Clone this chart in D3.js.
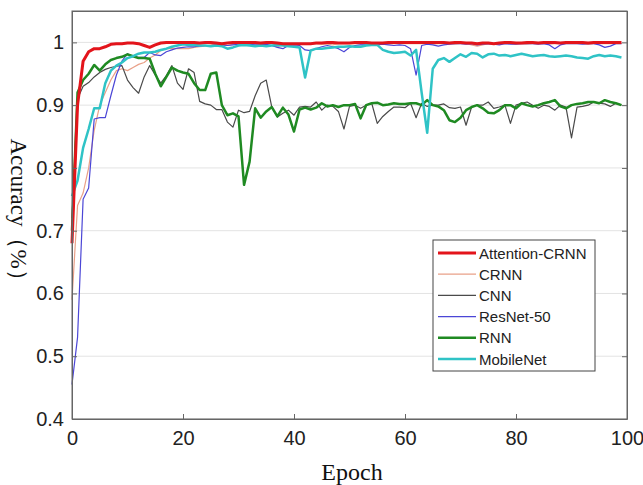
<!DOCTYPE html>
<html><head><meta charset="utf-8">
<script src="https://cdn.jsdelivr.net/npm/d3@7"></script>
<style>body{margin:0;background:#fff}svg{display:block}</style>
</head><body>
<svg id="c" width="643" height="485"></svg>
<script>
const seriesNames = ["Attention-CRNN","CRNN","CNN","ResNet-50","RNN","MobileNet"];
const xTicks = [0,20,40,60,80,100];
const yTicks = [0.4,0.5,0.6,0.7,0.8,0.9,1];
const yTickLabels = ["0.4","0.5","0.6","0.7","0.8","0.9","1"];
const xLabel = "Epoch";
const yLabel = "Accuracy（%）";

const attentionCRNN = [0.68,0.90,0.97,0.985,0.99,0.99,0.993,0.997,0.998,0.998,
0.999,0.999,0.998,0.995,0.992,0.996,0.999,1.0,1.0,1.0,
1.0,1.0,1.0,0.999,1.0,1.0,0.999,0.998,0.999,1.0,
1.0,1.0,1.0,1.0,0.999,1.0,1.0,0.999,0.998,0.998,
0.998,0.998,0.998,0.998,0.999,0.999,1.0,1.0,0.999,0.999,
0.999,1.0,1.0,1.0,0.999,0.999,0.999,1.0,1.0,1.0,
1.0,1.0,1.0,1.0,1.0,1.0,1.0,1.0,0.999,1.0,
1.0,0.999,0.999,0.998,0.999,0.999,0.998,0.999,1.0,1.0,
0.999,0.999,1.0,1.0,0.999,1.0,1.0,1.0,0.999,1.0,
1.0,1.0,1.0,0.999,1.0,1.0,1.0,1.0,1.0,1.0];

const crnn = [0.59,0.74,0.76,0.80,0.86,0.90,0.92,0.94,0.955,0.958,
0.955,0.96,0.965,0.968,0.975,0.98,0.987,0.99,0.99,0.99,
0.99,0.99,0.992,0.993,0.994,0.996,0.997,0.996,0.995,0.997,
0.998,0.998,0.997,0.998,0.997,0.996,0.995,0.993,0.996,0.997,
0.998,0.998,0.997,0.998,0.998,0.997,0.997,0.996,0.998,0.998,
0.998,0.998,0.997,0.998,0.998,0.998,0.997,0.997,0.998,0.998,
0.998,0.998,0.998,0.998,0.998,0.997,0.998,0.998,0.998,0.997,
0.998,0.998,0.996,0.994,0.996,0.998,0.998,0.997,0.998,0.998,
0.998,0.998,0.997,0.998,0.998,0.998,0.997,0.998,0.998,0.998,
0.998,0.998,0.998,0.997,0.998,0.998,0.998,0.998,0.998,0.998];

const cnn = [0.72,0.91,0.93,0.936,0.945,0.952,0.957,0.96,0.962,0.963,
0.94,0.928,0.919,0.945,0.963,0.948,0.935,0.947,0.963,0.935,
0.925,0.958,0.952,0.906,0.902,0.9,0.893,0.893,0.873,0.865,
0.892,0.888,0.89,0.915,0.935,0.94,0.897,0.881,0.887,0.892,
0.884,0.897,0.898,0.897,0.905,0.892,0.9,0.898,0.89,0.862,
0.898,0.9,0.895,0.9,0.903,0.871,0.882,0.89,0.897,0.897,
0.896,0.903,0.88,0.903,0.898,0.9,0.9,0.902,0.896,0.895,
0.897,0.868,0.897,0.9,0.9,0.905,0.895,0.897,0.9,0.871,
0.9,0.903,0.905,0.9,0.895,0.9,0.898,0.892,0.9,0.897,
0.848,0.897,0.898,0.9,0.905,0.903,0.902,0.898,0.903,0.9];

const resnet50 = [0.455,0.53,0.75,0.768,0.878,0.88,0.88,0.915,0.948,0.97,
0.982,0.978,0.976,0.976,0.984,0.98,0.979,0.985,0.988,0.991,
0.992,0.993,0.993,0.994,0.995,0.995,0.996,0.996,0.995,0.996,
0.997,0.997,0.997,0.996,0.996,0.997,0.995,0.992,0.99,0.995,
0.996,0.995,0.988,0.987,0.99,0.993,0.995,0.993,0.99,0.985,
0.992,0.995,0.996,0.996,0.995,0.996,0.997,0.996,0.995,0.996,
0.995,0.99,0.948,0.995,0.997,0.996,0.994,0.996,0.997,0.998,
0.998,0.997,0.998,0.996,0.997,0.998,0.997,0.996,0.998,0.997,
0.997,0.998,0.998,0.998,0.997,0.998,0.996,0.99,0.996,0.998,
0.998,0.998,0.997,0.998,0.998,0.996,0.992,0.994,0.998,0.998];

const rnn = [0.70,0.92,0.94,0.95,0.964,0.955,0.965,0.972,0.975,0.977,
0.981,0.978,0.975,0.975,0.974,0.95,0.93,0.945,0.96,0.955,
0.952,0.95,0.935,0.924,0.924,0.95,0.952,0.9,0.884,0.887,
0.882,0.773,0.81,0.895,0.88,0.89,0.897,0.882,0.896,0.885,
0.858,0.893,0.896,0.893,0.896,0.903,0.898,0.9,0.897,0.9,
0.9,0.902,0.879,0.9,0.903,0.904,0.9,0.901,0.903,0.902,
0.902,0.903,0.903,0.9,0.908,0.9,0.898,0.892,0.876,0.873,
0.88,0.892,0.897,0.9,0.895,0.888,0.887,0.892,0.9,0.9,
0.895,0.903,0.9,0.898,0.9,0.903,0.905,0.908,0.898,0.895,
0.9,0.902,0.903,0.905,0.905,0.903,0.908,0.905,0.903,0.9];

const mobileNet = [0.755,0.78,0.832,0.862,0.895,0.895,0.935,0.955,0.963,0.968,
0.975,0.978,0.982,0.984,0.984,0.985,0.988,0.99,0.993,0.995,
0.997,0.996,0.996,0.995,0.995,0.994,0.995,0.994,0.99,0.992,
0.995,0.996,0.995,0.994,0.995,0.994,0.995,0.996,0.995,0.994,
0.993,0.992,0.944,0.987,0.99,0.99,0.991,0.992,0.993,0.993,
0.994,0.993,0.993,0.995,0.996,0.996,0.988,0.985,0.983,0.984,
0.985,0.979,0.988,0.92,0.856,0.958,0.972,0.975,0.969,0.975,
0.981,0.977,0.983,0.982,0.976,0.981,0.982,0.979,0.98,0.978,
0.98,0.982,0.98,0.978,0.979,0.98,0.978,0.977,0.978,0.979,
0.978,0.976,0.975,0.974,0.978,0.98,0.978,0.979,0.978,0.976];

const seriesValues = [attentionCRNN, crnn, cnn, resnet50, rnn, mobileNet];
const seriesColors = ["#e3141b","#e9a088","#4a4a4a","#4b46d6","#1f8a22","#2fc3c6"];
const seriesWidths = [3,1.2,1.2,1.2,2.5,2.5];

const svg = d3.select("#c");
const L=72, R=627, T=11, B=419;
const x = d3.scaleLinear().domain([0,100]).range([L,R]);
const y = d3.scaleLinear().domain([0.4,1.05]).range([B,T]);

// grid
svg.append("g").selectAll("line").data(yTicks).join("line")
  .attr("x1",L).attr("x2",R).attr("y1",d=>y(d)).attr("y2",d=>y(d))
  .attr("stroke","#e3e3e3").attr("stroke-width",1);

// lines
const line = d3.line().x((d,i)=>x(i)).y(d=>y(d));
const order = [1,2,3,4,5,0];
order.forEach(k=>{
  svg.append("path").datum(seriesValues[k]).attr("d",line)
    .attr("fill","none").attr("stroke",seriesColors[k])
    .attr("stroke-width",seriesWidths[k]).attr("stroke-linejoin","round");
});

// axes
const font = "'Liberation Sans', Arial, sans-serif";
const xb = svg.append("g").attr("transform",`translate(0,${B})`)
  .call(d3.axisBottom(x).tickValues(xTicks).tickSizeInner(-5).tickSizeOuter(0).tickPadding(12));
const xt = svg.append("g").attr("transform",`translate(0,${T})`)
  .call(d3.axisTop(x).tickValues(xTicks).tickSizeInner(-5).tickSizeOuter(0).tickFormat(""));
const yl = svg.append("g").attr("transform",`translate(${L},0)`)
  .call(d3.axisLeft(y).tickValues(yTicks).tickSizeInner(-5).tickSizeOuter(0).tickPadding(8)
    .tickFormat((d,i)=>yTickLabels[i]));
const yr = svg.append("g").attr("transform",`translate(${R},0)`)
  .call(d3.axisRight(y).tickValues(yTicks).tickSizeInner(-5).tickSizeOuter(0).tickFormat(""));
[xb,xt,yl,yr].forEach(g=>{
  g.selectAll("path").attr("stroke","#666");
  g.selectAll("line").attr("stroke","#666");
  g.selectAll("text").attr("font-family",font).attr("font-size",20).attr("fill","#222");
});
svg.append("rect").attr("x",L).attr("y",T).attr("width",R-L).attr("height",B-T)
  .attr("fill","none").attr("stroke","#666").attr("stroke-width",1);

// axis labels
svg.append("text").attr("x",352).attr("y",480).attr("text-anchor","middle")
  .attr("font-family","'Liberation Serif','Times New Roman',serif").attr("font-size",24).attr("fill","#111")
  .text(xLabel);
svg.append("text").attr("transform","translate(11,215) rotate(90)").attr("text-anchor","middle")
  .attr("font-family","'Liberation Serif','Times New Roman',serif").attr("font-size",23).attr("fill","#111")
  .text(yLabel);

// legend
const lg = svg.append("g");
lg.append("rect").attr("x",433).attr("y",240).attr("width",162).attr("height",131)
  .attr("fill","#fff").attr("stroke","#444").attr("stroke-width",1);
seriesNames.forEach((n,i)=>{
  const yy = 253 + i*21.2;
  lg.append("line").attr("x1",438).attr("x2",476).attr("y1",yy).attr("y2",yy)
    .attr("stroke",seriesColors[i]).attr("stroke-width",seriesWidths[i]);
  lg.append("text").attr("x",479).attr("y",yy+5.5).attr("font-family",font)
    .attr("font-size",15).attr("fill","#222").text(n);
});
</script>
</body></html>
